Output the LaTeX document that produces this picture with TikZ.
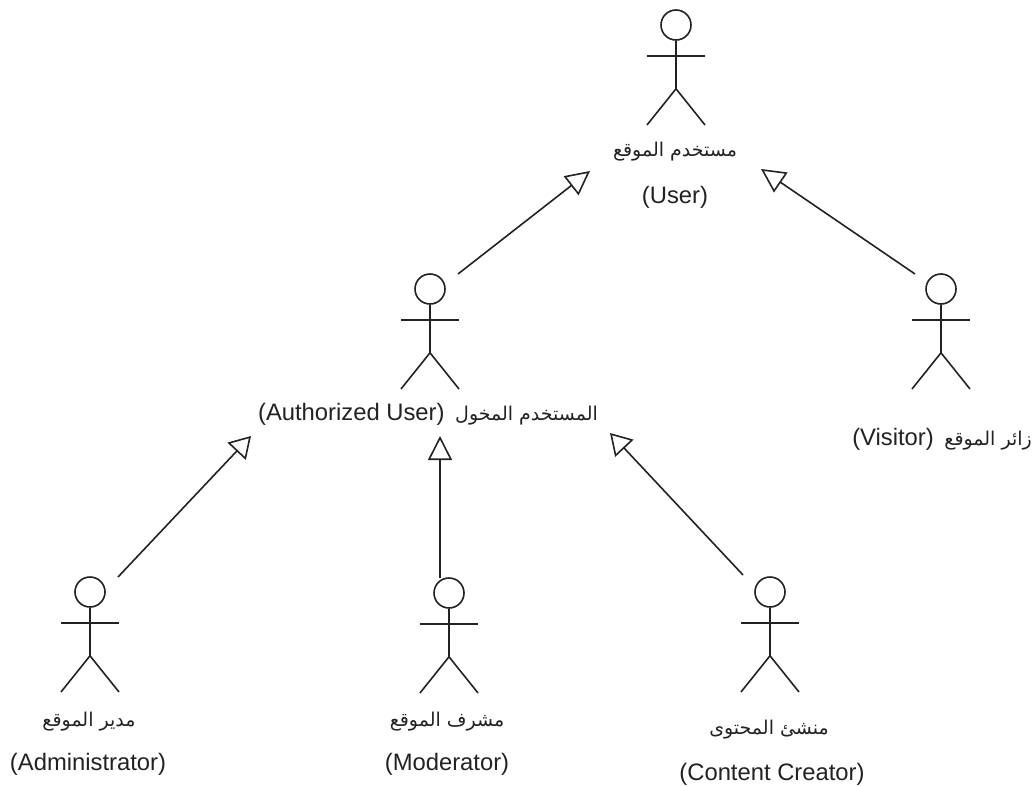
\documentclass[tikz,border=0pt]{standalone}
\usepackage{fontspec}
\setmainfont{Liberation Sans}
\newfontfamily\arabicfont[Script=Arabic]{DejaVu Sans}
\TeXXeTstate=1
\usetikzlibrary{arrows.meta}
\definecolor{ink}{HTML}{222222}
\newcommand{\ar}[1]{{\arabicfont\fontsize{19}{21}\selectfont\beginR #1\endR}}
\newcommand{\actorfig}[3]{%
  \node[head] (#1) at (#2,#3) {};
  \draw[stick] (#1.south) -- ++(0,48) coordinate (#1hip);
  \draw[stick] ([shift={(-29,31)}]#1.center) coordinate (#1al) -- ([shift={(29,31)}]#1.center) coordinate (#1ar);
  \draw[stick] ([shift={(-29,100)}]#1.center) coordinate (#1ll) -- (#1hip) -- ([shift={(29,100)}]#1.center) coordinate (#1lr);
}
\tikzset{
  head/.style={circle,draw=ink,line width=1.6pt,minimum size=30pt,inner sep=0pt},
  stick/.style={draw=ink,line width=1.6pt},
  gen/.style={draw=ink,line width=1.6pt,-{Triangle[open,length=24pt,width=24pt,line width=1.6pt]}},
  genshort/.style={draw=ink,line width=1.6pt,-{Triangle[open,length=21pt,width=25pt,line width=1.6pt]}},
  label/.style={text=ink,inner sep=0pt,font=\fontsize{23.8}{26}\selectfont},
}
\begin{document}
\begin{tikzpicture}[x=1pt,y=-1pt]
\useasboundingbox (0,0) rectangle (1036,787);
\actorfig{user}{676}{25}
\actorfig{auth}{430}{289}
\actorfig{visitor}{941}{289}
\actorfig{admin}{90}{592}
\actorfig{moder}{449}{593}
\actorfig{creator}{770}{592}
\node[label] (userar) at (675,152) {\ar{مستخدم الموقع}};
\node[label] (useren) at (675,197) {(User)};
\node[label] (authl) at (428,414) {(Authorized User)\hspace{4pt} \ar{المستخدم المخول}};
\node[label] (visl) at (942,439) {(Visitor)\hspace{4pt} \ar{زائر الموقع}};
\node[label] (adminar) at (89,722) {\ar{مدير الموقع}};
\node[label] (adminen) at (88,764) {(Administrator)};
\node[label] (moderar) at (447,722) {\ar{مشرف الموقع}};
\node[label] (moderen) at (447,764) {(Moderator)};
\node[label] (creatorar) at (769,730) {\ar{منشئ المحتوى}};
\node[label] (creatoren) at (772,774) {(Content Creator)};
\coordinate (a1s) at (458,274); \coordinate (a1t) at (590,171);
\coordinate (a2s) at (915,274); \coordinate (a2t) at (761,169);
\coordinate (a3s) at (118,577); \coordinate (a3t) at (251,436);
\coordinate (a4s) at (440,578); \coordinate (a4t) at (440,436);
\coordinate (a5s) at (743,575); \coordinate (a5t) at (610,433);
\draw[gen] (a1s) -- (a1t);
\draw[gen] (a2s) -- (a2t);
\draw[genshort] (a3s) -- (a3t);
\draw[gen] (a4s) -- (a4t);
\draw[genshort] (a5s) -- (a5t);
\end{tikzpicture}
\end{document}
